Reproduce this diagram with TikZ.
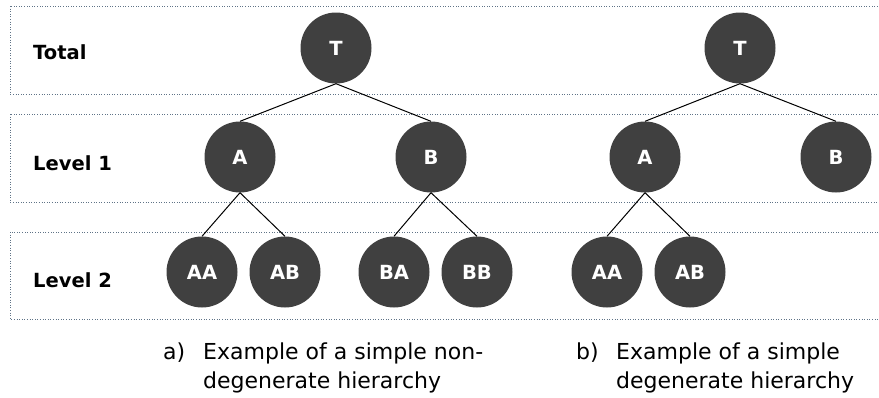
\documentclass[tikz,border=0pt]{standalone}
\usepackage{fontspec}
\setmainfont{DejaVu Sans}
\usepackage{tikz}
\usepackage{xcolor}
\usetikzlibrary{positioning}
\definecolor{nodeGray}{RGB}{64,64,64}
\definecolor{bandBlue}{RGB}{95,115,135}

\begin{document}
\begin{tikzpicture}[x=1pt, y=-1pt,
    nd/.style={circle, fill=nodeGray, minimum size=71pt, inner sep=0pt, text=white, font=\fontsize{19.5}{19.5}\selectfont\bfseries},
    band/.style={draw=bandBlue, dotted, line width=0.6pt},
    lvl/.style={anchor=base west, inner sep=0pt, font=\fontsize{19.5}{19.5}\selectfont\bfseries},
    capt/.style={anchor=base west, inner sep=0pt, font=\fontsize{22}{29}\selectfont},
    edge/.style={line width=1pt}]
            \useasboundingbox (0,0) rectangle (879,397);
            % bands
            \draw[band] (10,6) rectangle (890,94);
            \draw[band] (10,114) rectangle (890,202);
            \draw[band] (10,232) rectangle (890,319);
            \node[lvl] (total) at (33,59) {Total};
            \node[lvl] (lvlone) at (33,170) {Level 1};
            \node[lvl] (lvltwo) at (33,287) {Level 2};
            % a) non-degenerate
            \node[nd] (t1) at (336,48) {T};
            \node[nd] (a1) at (240,157) {A};
            \node[nd] (b1) at (431,157) {B};
            \node[nd] (aa1) at (202,272) {AA};
            \node[nd] (ab1) at (285,272) {AB};
            \node[nd] (ba1) at (394,272) {BA};
            \node[nd] (bb1) at (477,272) {BB};
            \draw[edge] (t1.south) -- (a1.north);
            \draw[edge] (t1.south) -- (b1.north);
            \draw[edge] (a1.south) -- (aa1.north);
            \draw[edge] (a1.south) -- (ab1.north);
            \draw[edge] (b1.south) -- (ba1.north);
            \draw[edge] (b1.south) -- (bb1.north);
            % b) degenerate
            \node[nd] (t2) at (740,48) {T};
            \node[nd] (a2) at (645,157) {A};
            \node[nd] (b2) at (836,157) {B};
            \node[nd] (aa2) at (607,272) {AA};
            \node[nd] (ab2) at (690,272) {AB};
            \draw[edge] (t2.south) -- (a2.north);
            \draw[edge] (t2.south) -- (b2.north);
            \draw[edge] (a2.south) -- (aa2.north);
            \draw[edge] (a2.south) -- (ab2.north);
            % captions
            \node[capt] (capa1) at (163,359) {a)};
            \node[capt] (capa2) at (203,359) {Example of a simple non-};
            \node[capt] (capa3) at (203,388) {degenerate hierarchy};
            \node[capt] (capb1) at (576,359) {b)};
            \node[capt] (capb2) at (616,359) {Example of a simple};
            \node[capt] (capb3) at (616,388) {degenerate hierarchy};
        \end{tikzpicture}
\end{document}
